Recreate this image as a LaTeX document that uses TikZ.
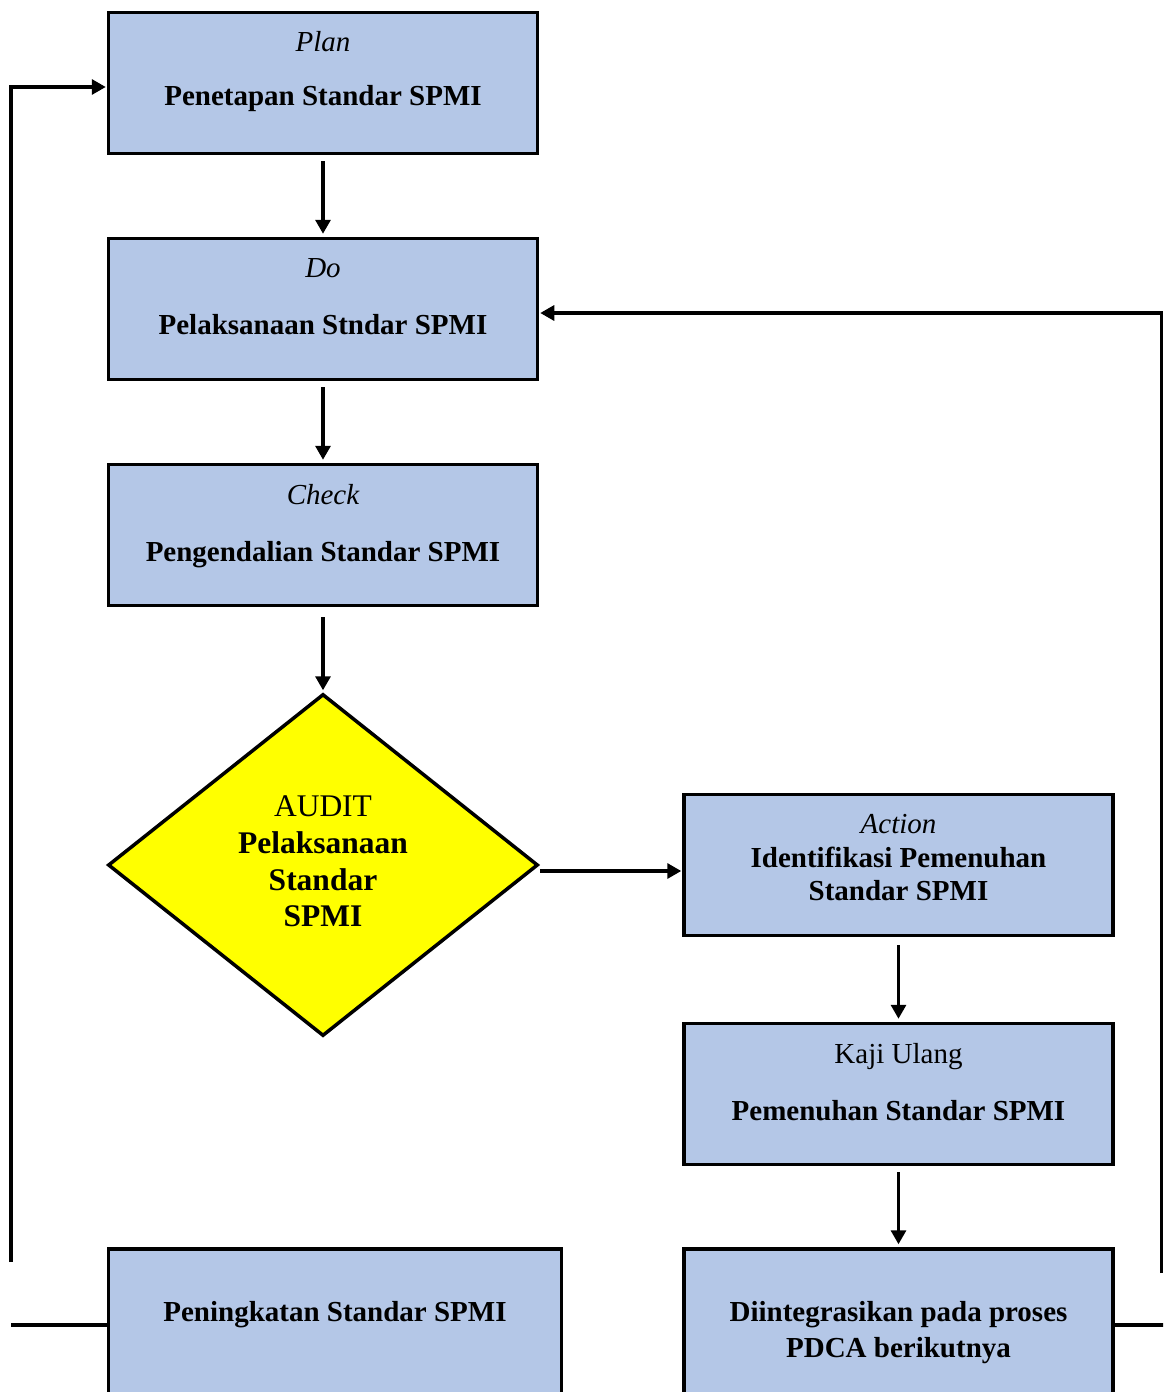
\documentclass[tikz,border=0pt]{standalone}
\usepackage{fontspec}
\setmainfont{Liberation Serif}
\usetikzlibrary{shapes.geometric,arrows.meta}
\definecolor{boxblue}{RGB}{180,199,231}
\definecolor{audityellow}{RGB}{255,255,0}
\tikzset{
  stepbox/.style={draw=black,line width=3.5pt,fill=boxblue,rectangle,inner sep=0pt,minimum width=429pt,minimum height=141pt},
  decisionbox/.style={draw=black,line width=3.5pt,fill=audityellow,diamond,inner sep=0pt,minimum width=430pt,minimum height=342pt},
  boxtxt/.style={anchor=base,inner sep=0pt,font=\fontsize{29}{34}\selectfont},
  bigtxt/.style={anchor=base,inner sep=0pt,font=\fontsize{31.5}{37}\selectfont},
  conn/.style={line width=3.2pt,-{Triangle[length=14pt,width=15pt]}},
  plainconn/.style={line width=3.2pt}
}
\begin{document}
\begin{tikzpicture}[x=1pt,y=-1pt]
\clip (0,0) rectangle (1163,1392);
\fill[white] (0,0) rectangle (1163,1392);
% boxes
\node[stepbox] (plan) at (323,83) {};
\node[stepbox] (do) at (323,309) {};
\node[stepbox] (check) at (323,535) {};
\node[decisionbox] (audit) at (323,865) {};
\node[stepbox] (action) at (898.5,865) {};
\node[stepbox] (kaji) at (898.5,1094) {};
\node[stepbox,minimum height=152pt] (diint) at (898.5,1325) {};
\node[stepbox,minimum width=453pt,minimum height=152pt] (peni) at (335,1325) {};
% texts
\node[boxtxt] (t1) at (323,51) {\itshape Plan};
\node[boxtxt] (t2) at (323,105) {\bfseries Penetapan Standar SPMI};
\node[boxtxt] (t3) at (323,277) {\itshape Do};
\node[boxtxt] (t4) at (323,334) {\bfseries Pelaksanaan Stndar SPMI};
\node[boxtxt] (t5) at (323,504) {\itshape Check};
\node[boxtxt] (t6) at (323,561) {\bfseries Pengendalian Standar SPMI};
\node[bigtxt] (t7) at (323,816) {AUDIT};
\node[bigtxt] (t8) at (323,853) {\bfseries Pelaksanaan};
\node[bigtxt] (t9) at (323,890) {\bfseries Standar};
\node[bigtxt] (t10) at (323,926) {\bfseries SPMI};
\node[boxtxt] (t11) at (898.5,833) {\itshape Action};
\node[boxtxt] (t12) at (898.5,867) {\bfseries Identifikasi Pemenuhan};
\node[boxtxt] (t13) at (898.5,900) {\bfseries Standar SPMI};
\node[boxtxt] (t14) at (898.5,1063) {Kaji Ulang};
\node[boxtxt] (t15) at (898.5,1120) {\bfseries Pemenuhan Standar SPMI};
\node[boxtxt] (t16) at (898.5,1321) {\bfseries Diintegrasikan pada proses};
\node[boxtxt] (t17) at (898.5,1357) {\bfseries PDCA berikutnya};
\node[boxtxt] (t18) at (335,1321) {\bfseries Peningkatan Standar SPMI};
% connectors
\draw[conn,shorten <=6pt,shorten >=3pt] (plan.south) -- (do.north);
\draw[conn,shorten <=6pt,shorten >=3pt] (do.south) -- (check.north);
\draw[conn,shorten <=10pt,shorten >=2pt] (check.south) -- (audit.north);
\draw[conn,shorten >=1pt] ([yshift=-6pt]audit.east) -- ([yshift=-6pt]action.west);
\draw[conn,shorten <=8pt,shorten >=3pt] (action.south) -- (kaji.north);
\draw[conn,shorten <=6pt,shorten >=3pt] (kaji.south) -- (diint.north);
% loop back left
\coordinate (lb) at (11,1262);
\coordinate (lt) at (11,87);
\draw[conn,shorten >=1pt] (lb) -- (lt) -- ([yshift=-4pt]plan.west);
\coordinate (lbot) at (11,1325);
\draw[plainconn] (lbot) -- (peni.west);
% loop back right
\coordinate (rb) at (1161.5,1273);
\coordinate (rt) at (1161.5,313);
\draw[conn,shorten >=1pt] (rb) -- (rt) -- ([yshift=-4pt]do.east);
\coordinate (rbot) at (1165,1325);
\draw[plainconn] (diint.east) -- (rbot);
\end{tikzpicture}
\end{document}
